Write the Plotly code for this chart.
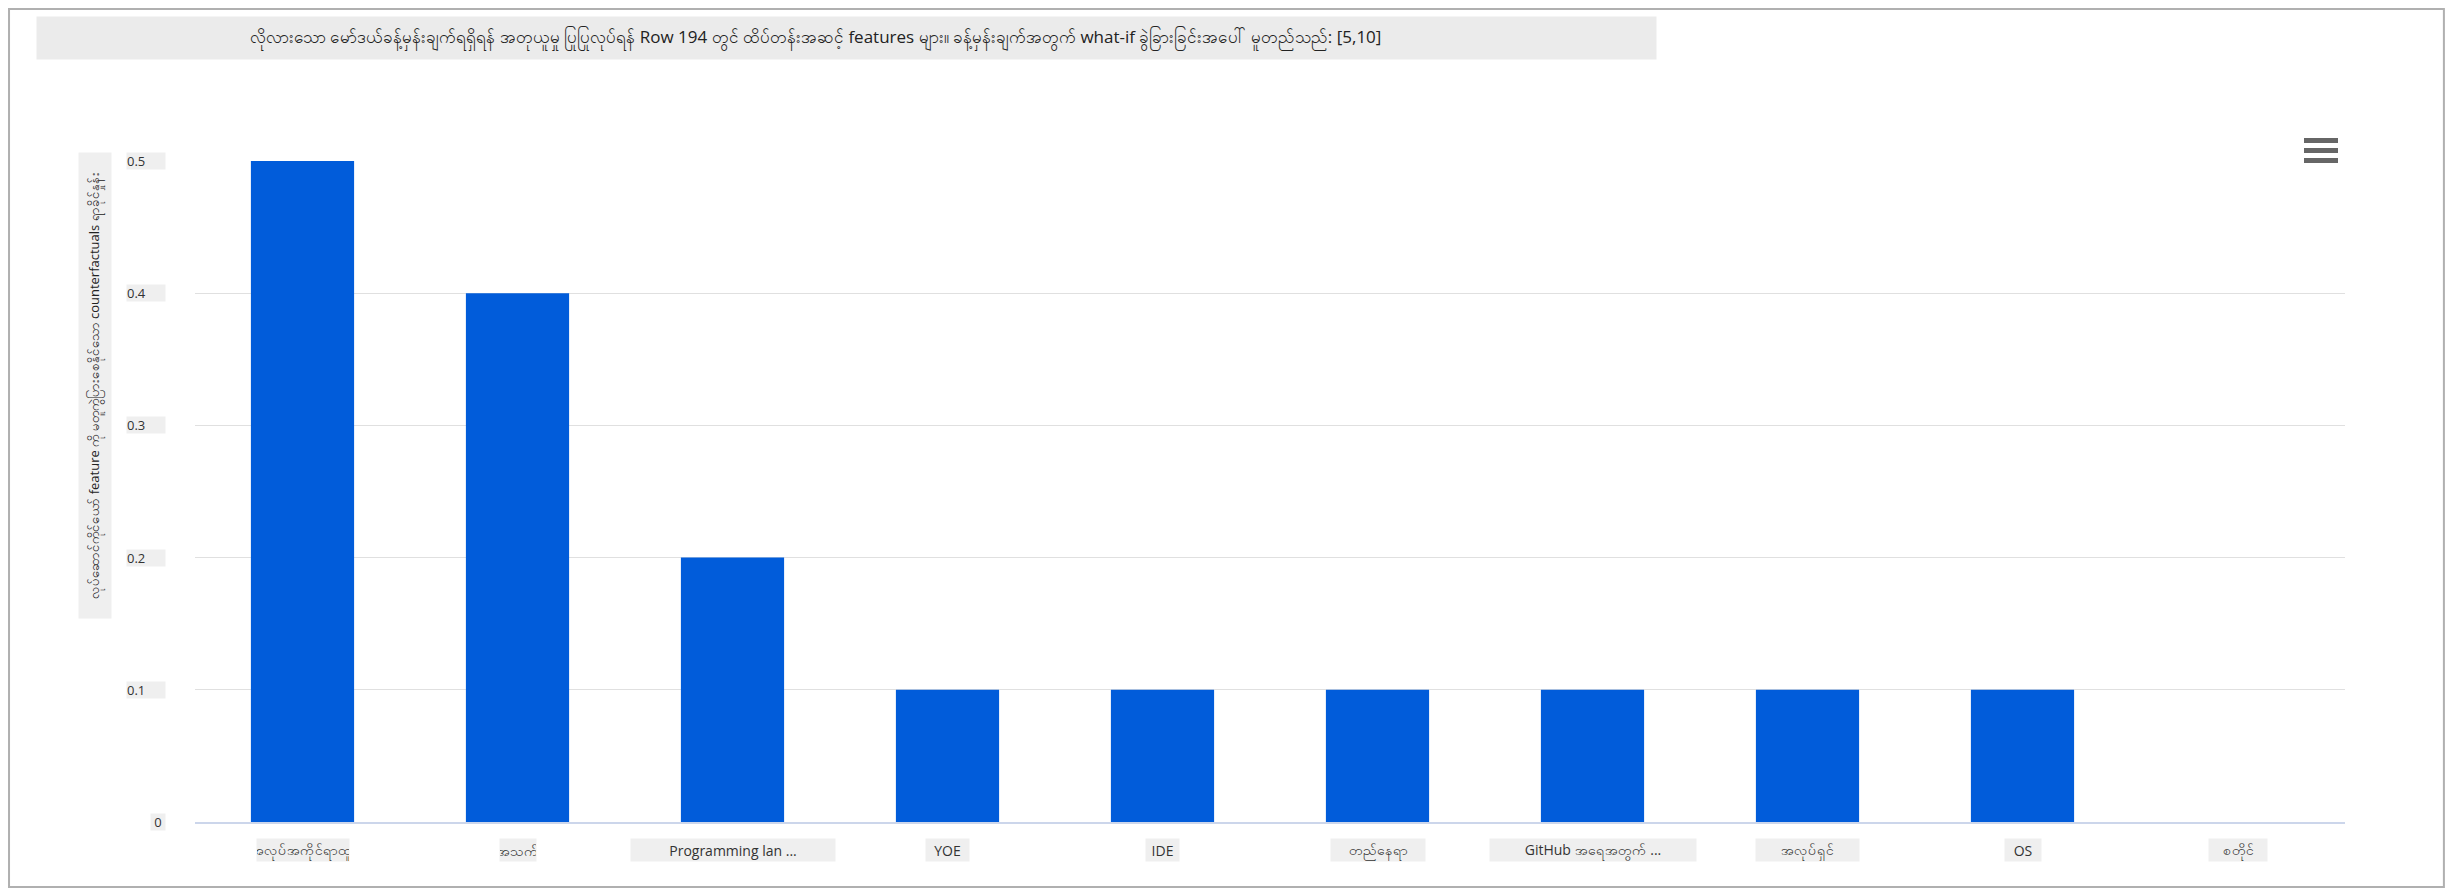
import plotly.graph_objects as go

# Data
features = ["အလုပ်အကိုင်ရာထူး", "အသက်", "Programming lan ...", "YOE", "IDE",
            "တည်နေရာ", "GitHub အရေအတွက် ...", "အလုပ်ရှင်", "OS", "စတိုင်"]
share_changed = [0.5, 0.4, 0.2, 0.1, 0.1, 0.1, 0.1, 0.1, 0.1, 0.0]
y_ticks = [0, 0.1, 0.2, 0.3, 0.4, 0.5]
y_tick_text = ["0", "0.1", "0.2", "0.3", "0.4", "0.5"]

title_text = ("လိုလားသော မော်ဒယ်ခန့်မှန်းချက်ရရှိရန် အတုယူမှု ပြုပြုလုပ်ရန် Row 194 တွင် "
              "ထိပ်တန်းအဆင့် features များ။ ခန့်မှန်းချက်အတွက် what-if ခွဲခြားခြင်းအပေါ် မူတည်သည်: [5,10]")
y_title = "လုပ်ဆောင်ကိုင်ယော် feature ကို မတူကွဲပြားစေနိုင်သော counterfactuals ရာခိုင်နှုန်း"

FONT = "Open Sans, Noto Sans, DejaVu Sans, sans-serif"
BAR = "#015CDA"
LABEL_BG = "#efefef"

# label box widths in px (visual styling only)
x_label_box = [92, 36, 204, 43, 33, 94, 206, 103, 36, 58]

fig = go.Figure()

fig.add_trace(go.Bar(
    x=features,
    y=share_changed,
    marker=dict(color=BAR, line=dict(width=0)),
    width=0.48,
    showlegend=False,
    hovertemplate="%{x}: %{y}<extra></extra>",
))

annotations = []

# title: grey box, text placed a little left of the box centre
annotations.append(dict(
    text=" ", xref="paper", yref="paper", x=0.3028, y=1.186,
    xanchor="center", yanchor="middle", showarrow=False,
    width=1617, height=40, bgcolor="#ebebeb",
))
annotations.append(dict(
    text=title_text, xref="paper", yref="paper", x=0.2888, y=1.186,
    xanchor="center", yanchor="middle", showarrow=False,
    font=dict(family=FONT, size=17, color="#222"),
))

# y axis title box (rotated)
annotations.append(dict(
    text=y_title, xref="paper", yref="paper", x=-0.0465, y=0.6596,
    xanchor="center", yanchor="middle", showarrow=False, textangle=-90,
    width=463, height=30, bgcolor=LABEL_BG,
    font=dict(family=FONT, size=13, color="#222"),
))

# y tick labels with grey backgrounds
for v, t in zip(y_ticks, y_tick_text):
    annotations.append(dict(
        text=t, xref="paper", yref="y", x=0, y=v, xanchor="right", yanchor="middle",
        xshift=-29, showarrow=False, bgcolor=LABEL_BG, borderpad=0,
        width=38 if len(t) > 1 else 14, height=16, align="left" if len(t) > 1 else "center",
        font=dict(family=FONT, size=13, color="#333"),
    ))

# x tick labels with grey backgrounds
for f, w in zip(features, x_label_box):
    annotations.append(dict(
        text=f, xref="x", yref="paper", x=f, y=-0.042, xanchor="center", yanchor="middle",
        showarrow=False, bgcolor=LABEL_BG, borderpad=0, width=w, height=22,
        font=dict(family=FONT, size=14, color="#333"),
    ))

shapes = [
    # outer frame along the figure edge
    dict(type="rect", xref="paper", yref="paper", x0=-0.0865, x1=1.046, y0=-0.0983, y1=1.23,
         line=dict(color="#b0b0b0", width=2), fillcolor="rgba(0,0,0,0)", layer="below"),
]
# menu icon (three bars)
for lo, hi in [(18, 23), (8, 13), (-2, 3)]:
    shapes.append(dict(type="rect", xref="paper", yref="paper",
                       xsizemode="pixel", ysizemode="pixel", xanchor=1, yanchor=1,
                       x0=-41, x1=-7, y0=lo, y1=hi,
                       fillcolor="#666666", line=dict(width=0)))

fig.update_layout(
    width=2437,
    height=880,
    plot_bgcolor="white",
    paper_bgcolor="white",
    margin=dict(l=187, r=100, t=153, b=66),
    font=dict(family=FONT, size=13, color="#333"),
    xaxis=dict(showticklabels=False, showgrid=False, zeroline=False,
               showline=True, linecolor="#ccd6eb", linewidth=2),
    yaxis=dict(range=[0, 0.5], tickvals=y_ticks, showticklabels=False,
               showgrid=True, gridcolor="#e0e0e0", gridwidth=1, zeroline=False),
    annotations=annotations,
    shapes=shapes,
    bargap=0.52,
)

fig.write_html("out.html")
